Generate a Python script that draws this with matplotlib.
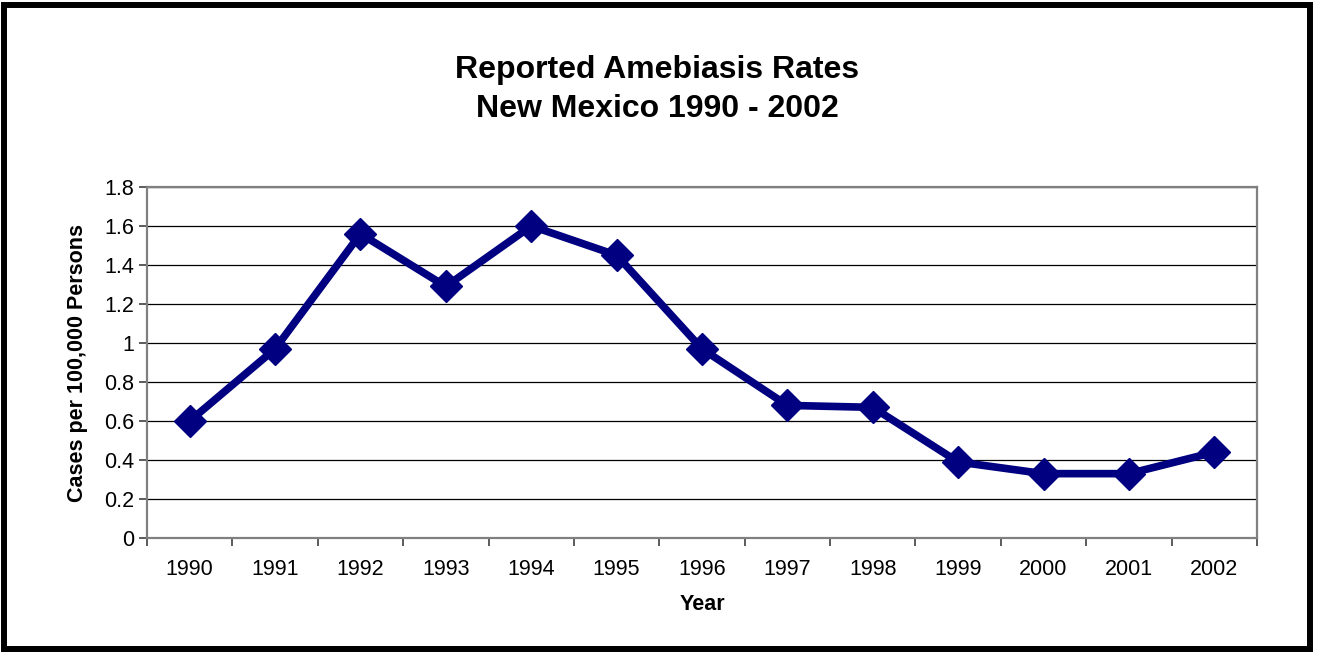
import matplotlib.pyplot as plt
import numpy as np
from matplotlib.patches import Rectangle

years = ["1990", "1991", "1992", "1993", "1994", "1995", "1996",
         "1997", "1998", "1999", "2000", "2001", "2002"]
rates = [0.60, 0.97, 1.56, 1.29, 1.60, 1.45, 0.97,
         0.68, 0.67, 0.39, 0.33, 0.33, 0.44]
yticks = [0, 0.2, 0.4, 0.6, 0.8, 1, 1.2, 1.4, 1.6, 1.8]
ytick_labels = ["0", "0.2", "0.4", "0.6", "0.8", "1", "1.2", "1.4", "1.6", "1.8"]

plt.rcParams['font.family'] = ['Liberation Sans', 'DejaVu Sans']

W, H = 1317, 652
fig = plt.figure(figsize=(W / 100, H / 100), dpi=100)
ax = fig.add_axes([147 / W, 1 - 538 / H, (1257 - 147) / W, (538 - 187) / H])

x = np.arange(len(years))
ax.plot(x, rates, color='#000080', lw=5.5, marker='D', markersize=16.5,
        markeredgecolor='#000080', solid_joinstyle='miter', zorder=3)

ax.set_xlim(-0.5, len(years) - 0.5)
ax.set_ylim(0, 1.8)

# category labels centred, tick marks on the boundaries
ax.set_xticks(x)
ax.set_xticklabels(years, fontsize=15.5)
ax.tick_params(axis='x', which='major', length=0, pad=15)
ax.set_xticks(np.arange(-0.5, len(years)), minor=True)
ax.tick_params(axis='x', which='minor', length=6, width=1.2, color='#404040')

ax.set_yticks(yticks)
ax.set_yticklabels(ytick_labels, fontsize=15.5)
ax.tick_params(axis='y', length=6, width=1.2, color='#404040', pad=3)

ax.grid(axis='y', color='black', lw=0.9)
ax.set_axisbelow(True)
for s in ax.spines.values():
    s.set_color('#808080')
    s.set_linewidth(1.6)

ax.set_xlabel("Year", fontsize=15.5, fontweight='bold', labelpad=10)
ax.set_ylabel("Cases per 100,000 Persons", fontsize=15.5, fontweight='bold', labelpad=12)

fig.text(657 / W, 1 - 70 / H, "Reported Amebiasis Rates", ha='center', va='center',
         fontsize=23, fontweight='bold')
fig.text(657 / W, 1 - 109 / H, "New Mexico 1990 - 2002", ha='center', va='center',
         fontsize=23, fontweight='bold')

# outer frame
fig.patches.append(Rectangle((4 / W, 1 - 649 / H), (1310 - 4) / W, (649 - 5) / H,
                             transform=fig.transFigure, fill=False,
                             edgecolor='black', lw=4.3))

fig.savefig("out.png", dpi=100)
